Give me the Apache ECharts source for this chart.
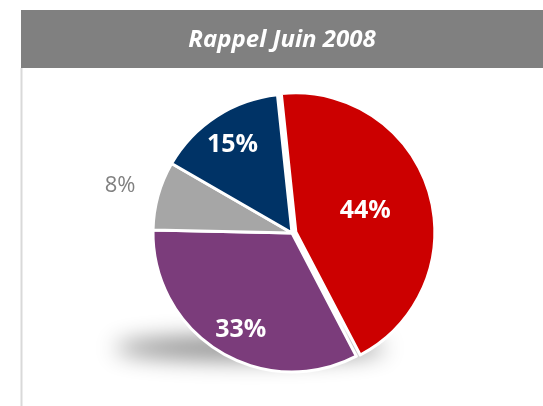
<!DOCTYPE html>
<html>
<head>
<meta charset="utf-8">
<script src="https://cdn.jsdelivr.net/npm/echarts@6/dist/echarts.min.js"></script>
<style>
html,body{margin:0;padding:0;background:#fff;}
#c{width:543px;height:406px;}
</style>
</head>
<body>
<div id="c"></div>
<script>
const title = 'Rappel Juin 2008';
const categories = ['A', 'B', 'C', 'D'];
const values = [44, 33, 8, 15];
const colors = ['#CC0000', '#7B3C7B', '#A6A6A6', '#003366'];
const labelOffsets = [[-12, -5], [-13, 35], [-102, -28], [-20, -27]];

const chart = echarts.init(document.getElementById('c'), null, {renderer: 'canvas'});
const data = values.map((v, i) => ({
  name: categories[i],
  value: v,
  selected: i === 0,
  itemStyle: {color: colors[i]},
  label: i === 2 ? {
    offset: labelOffsets[i], color: '#808080', fontWeight: 'normal', fontSize: 22
  } : {offset: labelOffsets[i]}
}));

chart.setOption({
  animation: false,
  graphic: [
    {type: 'rect', shape: {x: 21, y: 10, width: 522, height: 58}, style: {fill: '#808080'}, z: 0},
    {type: 'line', shape: {x1: 21.5, y1: 68, x2: 21.5, y2: 406}, style: {stroke: '#d9d9d9', lineWidth: 2}, z: 0},
    {type: 'text', x: 282, y: 40, style: {text: title, fill: '#fff', font: 'italic bold 24px "Open Sans"', align: 'center', verticalAlign: 'middle'}, z: 1},
    {type: 'ellipse', shape: {cx: 250, cy: 348 - 2000, rx: 135, ry: 12}, style: {fill: '#999', shadowBlur: 22, shadowOffsetX: 0, shadowOffsetY: 2000, shadowColor: 'rgba(0,0,0,0.45)'}, z: 0}
  ],
  series: [{
    type: 'pie',
    center: [292, 233],
    radius: 139,
    startAngle: 96,
    clockwise: true,
    selectedMode: 'single',
    selectedOffset: 4,
    z: 3,
    itemStyle: {borderColor: '#fff', borderWidth: 3},
    label: {
      show: true,
      position: 'inside',
      formatter: '{c}%',
      color: '#fff',
      fontFamily: 'Open Sans',
      fontWeight: 'bold',
      fontSize: 25
    },
    labelLine: {show: false},
    emphasis: {disabled: true},
    data: data
  }]
});
</script>
</body>
</html>
